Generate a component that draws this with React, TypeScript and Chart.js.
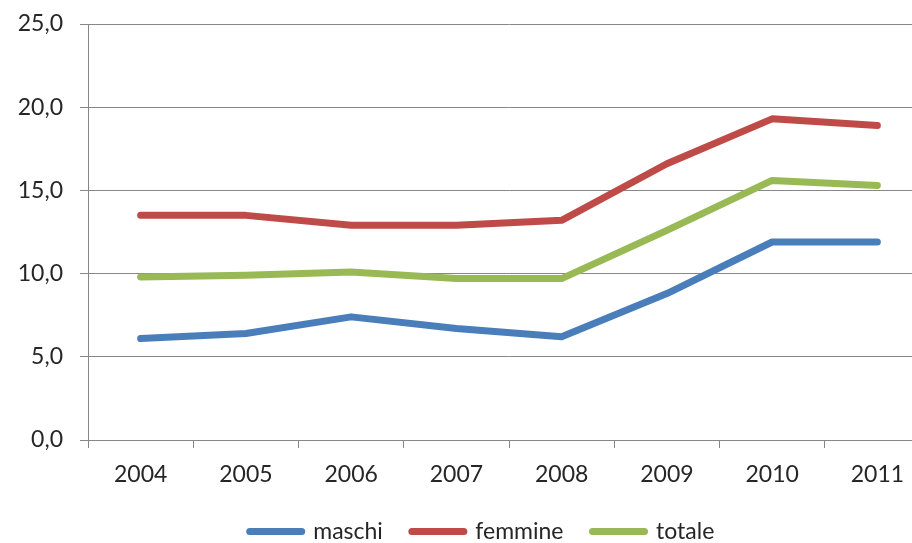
import React, { useEffect, useRef } from "react";
import { Chart, registerables } from "chart.js";

Chart.register(...registerables);

const years = ["2004", "2005", "2006", "2007", "2008", "2009", "2010", "2011"];
const maschi = [6.1, 6.4, 7.4, 6.7, 6.2, 8.8, 11.9, 11.9];
const femmine = [13.5, 13.5, 12.9, 12.9, 13.2, 16.6, 19.3, 18.9];
const totale = [9.8, 9.9, 10.1, 9.7, 9.7, 12.6, 15.6, 15.3];
const seriesNames = ["maschi", "femmine", "totale"];
const seriesColors = ["#4A7EBB", "#BE4B48", "#98B954"];

const GRID = "#878787";
const TEXT = "#262626";
const FONT = { family: "Lato", size: 23 };

const shiftLegend = {
  id: "shiftLegend",
  afterLayout(chart: any) {
    const l = chart.legend;
    if (l) {
      l.left += 12;
      l.right += 12;
    }
  },
};

export default function App() {
  const ref = useRef<HTMLCanvasElement | null>(null);

  useEffect(() => {
    if (!ref.current) return;
    const values = [maschi, femmine, totale];
    const chart = new Chart(ref.current, {
      type: "line",
      data: {
        labels: years,
        datasets: values.map((v, i) => ({
          label: seriesNames[i],
          data: v,
          borderColor: seriesColors[i],
          backgroundColor: seriesColors[i],
          borderWidth: 7,
          borderCapStyle: "round",
          borderJoinStyle: "round",
          pointRadius: 0,
          tension: 0,
          fill: false,
        })),
      },
      options: {
        animation: false,
        responsive: false,
        devicePixelRatio: 1,
        layout: { padding: { left: 10, right: 10, top: 24, bottom: 0 } },
        plugins: {
          tooltip: { enabled: false },
          legend: {
            position: "bottom",
            labels: {
              font: FONT,
              color: TEXT,
              padding: 29,
              usePointStyle: true,
              pointStyleWidth: 52,
              generateLabels: (ch: any) =>
                ch.data.datasets.map((d: any, i: number) => ({
                  text: d.label,
                  fillStyle: d.borderColor,
                  strokeStyle: d.borderColor,
                  lineWidth: 7,
                  lineCap: "round",
                  pointStyle: "line",
                  hidden: false,
                  datasetIndex: i,
                  fontColor: TEXT,
                })),
            },
          },
        },
        scales: {
          x: {
            offset: true,
            grid: {
              offset: true,
              drawOnChartArea: false,
              drawTicks: true,
              tickLength: 8,
              color: GRID,
            },
            border: { display: true, color: GRID },
            ticks: { font: FONT, color: TEXT, padding: 13, maxRotation: 0 },
            afterFit: (s: any) => {
              s.height = 51;
            },
          },
          y: {
            min: 0,
            max: 25,
            grid: { color: GRID, drawTicks: true, tickLength: 8 },
            border: { display: true, color: GRID },
            ticks: {
              stepSize: 5,
              font: FONT,
              color: TEXT,
              padding: 17,
              callback: (v: any) => Number(v).toFixed(1).replace(".", ","),
            },
            afterFit: (s: any) => {
              s.width = 78;
              s.paddingTop = 12;
              s.paddingBottom = 12;
            },
          },
        },
      },
      plugins: [shiftLegend],
    } as any);
    return () => chart.destroy();
  }, []);

  return (
    <div
      style={{
        position: "fixed",
        left: 0,
        top: 0,
        width: 912,
        height: 543,
        overflow: "hidden",
        background: "#fff",
      }}
    >
      <canvas ref={ref} width={940} height={553} style={{ display: "block" }} />
    </div>
  );
}
